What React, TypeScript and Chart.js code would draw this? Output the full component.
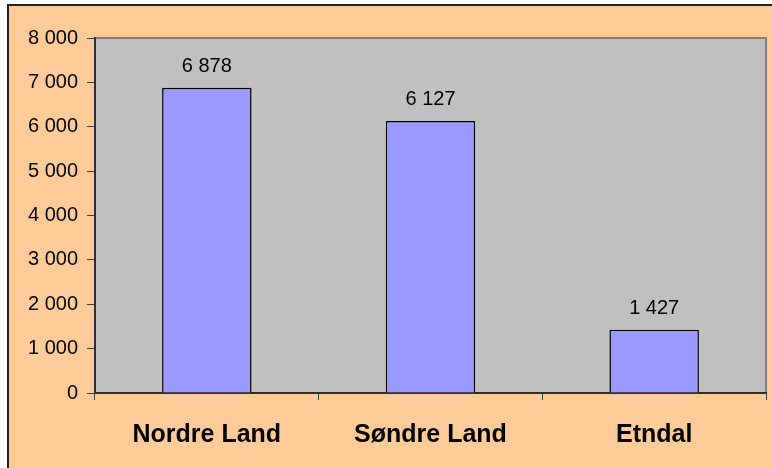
import React, { useEffect, useRef } from "react";
import { Chart, registerables } from "chart.js";

Chart.register(...registerables);

const categories = ["Nordre Land", "Søndre Land", "Etndal"];
const values = [6878, 6127, 1427];
const yMin = 0;
const yMax = 8000;
const yStep = 1000;

const fmt = (n: number) => String(n).replace(/\B(?=(\d{3})+(?!\d))/g, " ");

const plotBg = {
  id: "plotBg",
  beforeDraw(chart: any) {
    const { ctx, chartArea: a } = chart;
    ctx.save();
    ctx.fillStyle = "#C0C0C0";
    ctx.fillRect(a.left, a.top, a.right - a.left, a.bottom - a.top);
    ctx.strokeStyle = "#808080";
    ctx.lineWidth = 2;
    ctx.beginPath();
    ctx.moveTo(a.left, a.top);
    ctx.lineTo(a.right, a.top);
    ctx.lineTo(a.right, a.bottom);
    ctx.stroke();
    ctx.restore();
  },
};

const dataLabels = {
  id: "dataLabels",
  afterDatasetsDraw(chart: any) {
    const { ctx } = chart;
    const meta = chart.getDatasetMeta(0);
    ctx.save();
    ctx.fillStyle = "#000";
    ctx.font = "20px Arial, 'Liberation Sans', sans-serif";
    ctx.textAlign = "center";
    ctx.textBaseline = "alphabetic";
    meta.data.forEach((el: any, i: number) => {
      ctx.fillText(fmt(chart.data.datasets[0].data[i]), el.x, el.y - 16);
    });
    ctx.restore();
  },
};

export default function App() {
  const ref = useRef<HTMLCanvasElement>(null);
  useEffect(() => {
    const chart = new Chart(ref.current!, {
      type: "bar",
      data: {
        labels: categories,
        datasets: [
          {
            data: values,
            backgroundColor: "#9999FF",
            borderColor: "#000000",
            borderWidth: 1.5,
            categoryPercentage: 1,
            barPercentage: 0.4,
          },
        ],
      },
      options: {
        responsive: false,
        animation: false,
        layout: { padding: { top: 38, right: 6, left: 0, bottom: 0 } },
        plugins: { legend: { display: false }, tooltip: { enabled: false } },
        scales: {
          x: {
            afterFit: (s: any) => {
              s.height = 75;
            },
            grid: {
              offset: true,
              drawOnChartArea: false,
              drawTicks: true,
              tickLength: 7,
              color: "#404040",
            },
            border: { display: true, color: "#303030", width: 2 },
            ticks: {
              color: "#000",
              padding: 20,
              font: { family: "Arial, 'Liberation Sans', sans-serif", size: 25, weight: "bold" },
            },
          },
          y: {
            min: yMin,
            max: yMax,
            afterFit: (s: any) => {
              s.width = 95;
            },
            grid: {
              drawOnChartArea: false,
              drawTicks: true,
              tickLength: 8,
              color: "#404040",
            },
            border: { display: true, color: "#303030", width: 2 },
            ticks: {
              stepSize: yStep,
              color: "#000",
              padding: 9,
              font: { family: "Arial, 'Liberation Sans', sans-serif", size: 20 },
              callback: (v: any) => fmt(Number(v)),
            },
          },
        },
      },
      plugins: [plotBg, dataLabels],
    });
    return () => chart.destroy();
  }, []);

  return (
    <div style={{ position: "fixed", left: 0, top: 0, width: 772, height: 468, background: "#fff", overflow: "hidden" }}>
      <div
        style={{
          position: "absolute",
          left: 7,
          top: 4,
          width: 800,
          height: 500,
          background: "#FFCC99",
          borderLeft: "2px solid #222",
          borderTop: "2px solid #222",
        }}
      />
      <canvas ref={ref} width={772} height={468} style={{ position: "absolute", left: 0, top: 0 }} />
    </div>
  );
}
